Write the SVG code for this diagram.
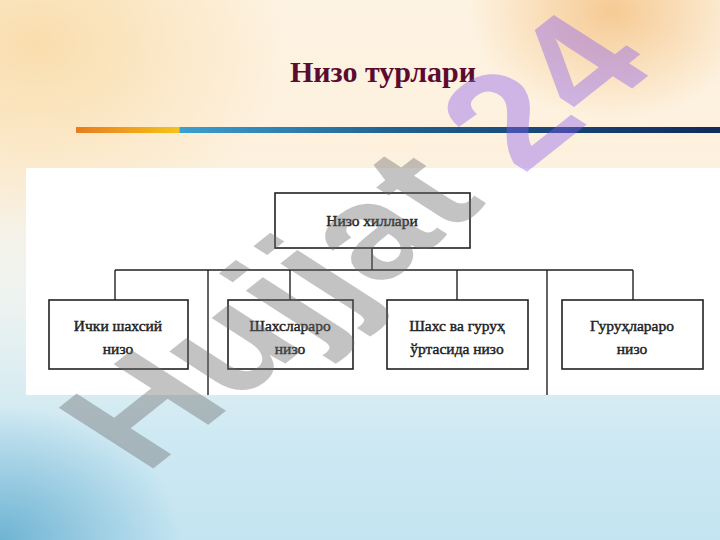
<svg xmlns="http://www.w3.org/2000/svg" width="720" height="540" viewBox="0 0 720 540">
<defs>
<linearGradient id="bg" x1="0" y1="0" x2="0" y2="1">
<stop offset="0" stop-color="#fdf3e2"/>
<stop offset="0.28" stop-color="#fdf1de"/>
<stop offset="0.55" stop-color="#eef3f0"/>
<stop offset="0.8" stop-color="#cfe9f3"/>
<stop offset="1" stop-color="#c3e4f1"/>
</linearGradient>
<radialGradient id="warm" cx="0.05" cy="0.08" r="0.35">
<stop offset="0" stop-color="#f8d8a0" stop-opacity="0.8"/>
<stop offset="1" stop-color="#f8d8a0" stop-opacity="0"/>
</radialGradient>
<radialGradient id="pen" cx="0.85" cy="0.02" r="0.2">
<stop offset="0" stop-color="#f4c080" stop-opacity="0.8"/>
<stop offset="1" stop-color="#f4c080" stop-opacity="0"/>
</radialGradient>
<radialGradient id="bluecorner" cx="0" cy="1" r="0.25">
<stop offset="0" stop-color="#5aa8cc" stop-opacity="0.8"/>
<stop offset="1" stop-color="#5aa8cc" stop-opacity="0"/>
</radialGradient>
<linearGradient id="bar" x1="76" y1="0" x2="720" y2="0" gradientUnits="userSpaceOnUse">
<stop offset="0" stop-color="#e87c1e"/>
<stop offset="0.16" stop-color="#f5c21a"/>
<stop offset="0.162" stop-color="#3b9fd0"/>
<stop offset="0.5" stop-color="#1f6090"/>
<stop offset="1" stop-color="#102a5c"/>
</linearGradient>
<style>
.box{fill:#ffffff;stroke:#222;stroke-width:1.6}
.ln{stroke:#222;stroke-width:1.4;fill:none}
.t{font-family:"Liberation Serif","Times New Roman",serif;font-size:15.5px;fill:#222;text-anchor:middle;stroke:#222;stroke-width:0.45}
.wm{font-family:"Liberation Sans",Arial,sans-serif;font-weight:bold;font-size:132px}
</style>
</defs>
<rect x="0" y="0" width="720" height="540" fill="url(#bg)"/>
<rect x="0" y="0" width="720" height="540" fill="url(#warm)"/>
<rect x="0" y="0" width="720" height="540" fill="url(#pen)"/>
<rect x="0" y="0" width="720" height="540" fill="url(#bluecorner)"/>
<text x="383" y="82" font-family="Liberation Serif, Times New Roman, serif" font-weight="bold" font-size="30" fill="#5c0b30" text-anchor="middle">Низо турлари</text>
<rect x="76" y="127" width="644" height="6" fill="url(#bar)"/>
<rect x="26" y="168" width="694" height="227" fill="#ffffff"/>
<g id="connectors">
<path class="ln" d="M372 248V270M115 270H633M115 270V300M290 270V300M457 270V300M633 270V300M208 270V395M547 270V395"/>
</g>
<g id="root"><rect class="box" x="275" y="193" width="195" height="55"/><text class="t" x="372" y="226">Низо хиллари</text></g>
<g id="n1"><rect class="box" x="49" y="300" width="139" height="69"/><text class="t" x="118" y="331">Ички шахсий</text><text class="t" x="118" y="354">низо</text></g>
<g id="n2"><rect class="box" x="228" y="300" width="125" height="69"/><text class="t" x="290" y="331">Шахслараро</text><text class="t" x="290" y="354">низо</text></g>
<g id="n3"><rect class="box" x="387" y="300" width="141" height="69"/><text class="t" x="457" y="331">Шахс ва гуруҳ</text><text class="t" x="457" y="354">ўртасида низо</text></g>
<g id="n4"><rect class="box" x="562" y="300" width="141" height="69"/><text class="t" x="632" y="331">Гуруҳлараро</text><text class="t" x="632" y="354">низо</text></g>
<g id="watermark" opacity="0.4">
<text class="wm" transform="translate(145,475) scale(1.4,1) rotate(-48)"><tspan fill="#6b6b6b">Hujjat </tspan><tspan fill="#8a5cf0">24</tspan></text>
</g>
</svg>
